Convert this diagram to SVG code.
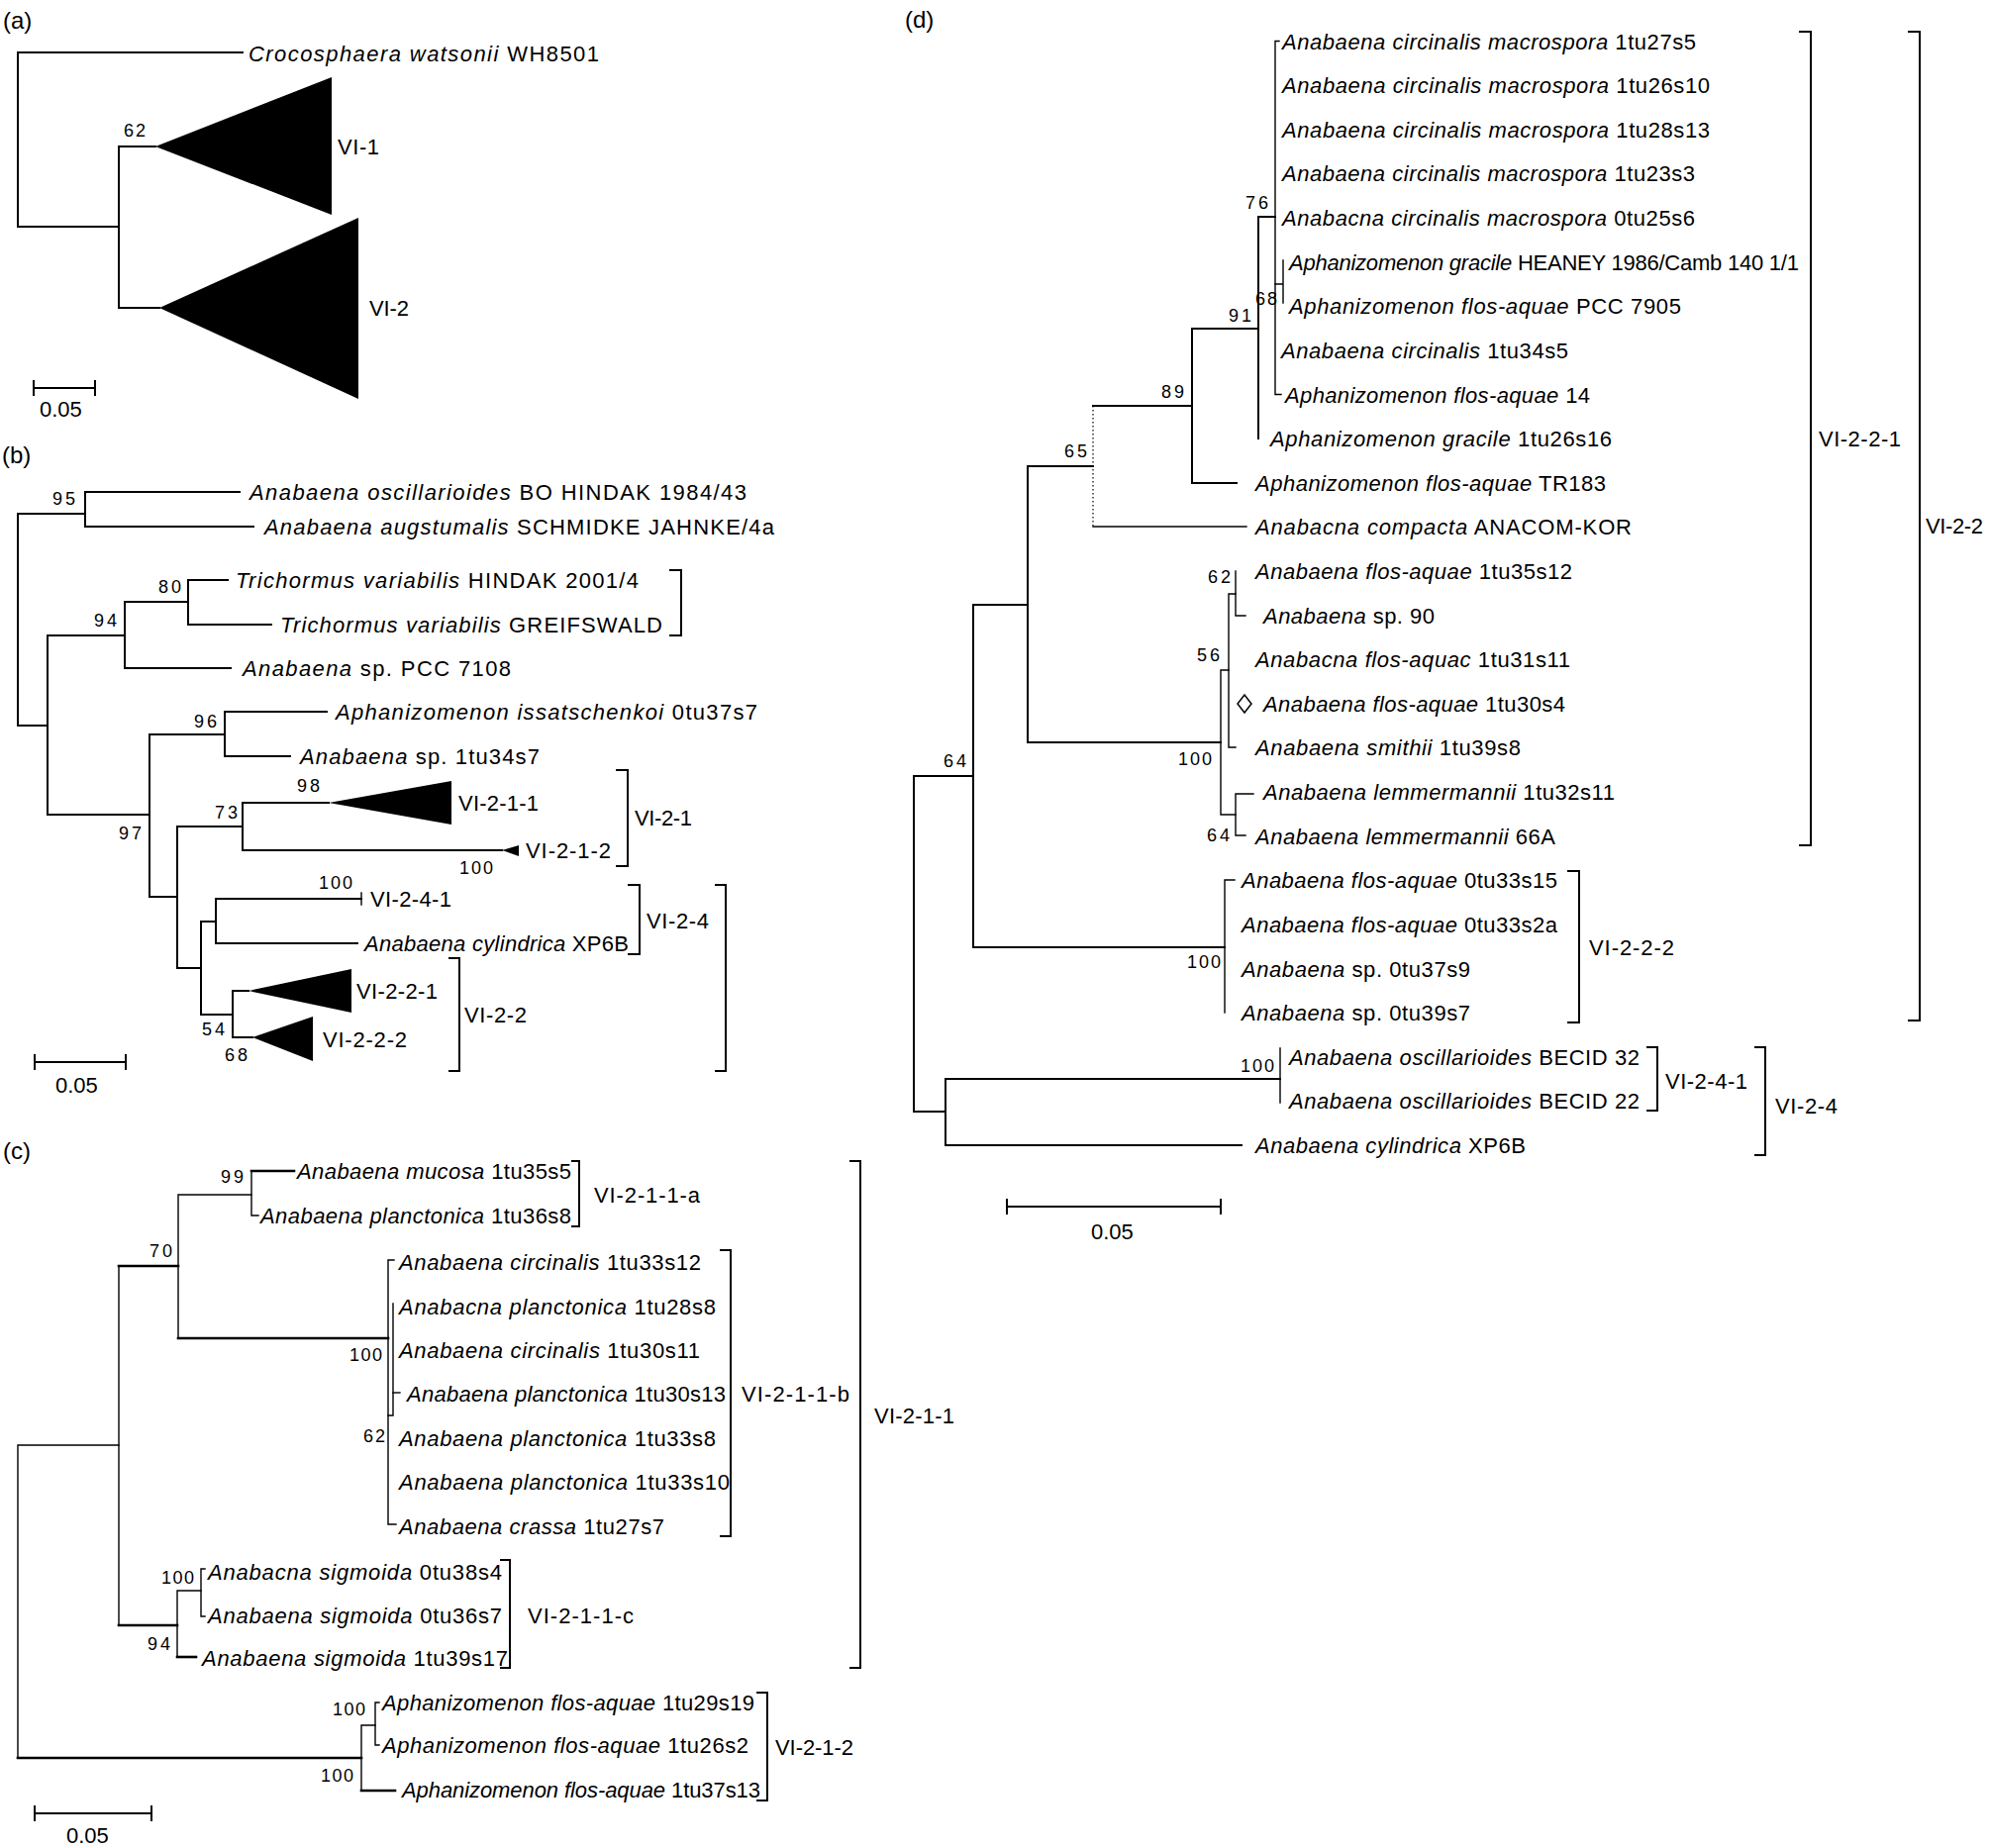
<svg xmlns="http://www.w3.org/2000/svg" width="2010" height="1867" viewBox="0 0 2010 1867">
<style>
  .e { fill: none; stroke: #000; stroke-width: 2; stroke-linecap: square; stroke-linejoin: miter; }
  .th { stroke-width: 1.4; }
  .hv { stroke-width: 2.6; }
  .dot { stroke-width: 1.2; stroke-dasharray: 1.5 2.5; stroke-linecap: butt; }
  .br { fill: none; stroke: #000; stroke-width: 2; stroke-linecap: butt; }
  .tri { fill: #000; stroke: none; }
  text { font-family: "Liberation Sans", Arial, Helvetica, sans-serif; font-size: 22px; fill: #000; }
  .i { font-style: italic; }
  .bs { font-size: 18px; }
  .pl { font-size: 24px; }
</style>
<rect width="2010" height="1867" fill="#fff"/>

<!-- ===================== (a) overview ===================== -->
<g id="panel-a">
  <text class="pl" x="3" y="29">(a)</text>
  <g id="a-connectors">
    <path class="e" d="M245,53 H18 V229 H120"/>
    <path class="e" d="M157,148 H120 V311 H161"/>
  </g>
  <g id="a-crocosphaera"><text x="251" y="62" textLength="354"><tspan class="i">Crocosphaera watsonii</tspan> WH8501</text></g>
  <g id="a-VI-1">
    <polygon class="tri" points="157,148 335,78 335,217"/>
    <text x="341" y="156" textLength="42">VI-1</text>
  </g>
  <g id="a-VI-2">
    <polygon class="tri" points="161,311 362,220 362,403"/>
    <text x="373" y="319" textLength="40">VI-2</text>
  </g>
  <text class="bs" x="125" y="138" textLength="22">62</text>
  <g id="a-scale">
    <path class="br" d="M34,392 H96 M34,384 V400 M96,384 V400"/>
    <text x="40" y="421">0.05</text>
  </g>
</g>

<!-- ===================== (b) VI-2 clades ===================== -->
<g id="panel-b">
  <text class="pl" x="2" y="468">(b)</text>
  <g id="b-connectors">
    <path class="e" d="M86,519 H18 V733 H48"/>
    <path class="e" d="M242,497 H86 V532 H256"/>
    <path class="e" d="M126,642 H48 V823 H151"/>
    <path class="e" d="M190,608 H126 V675 H233"/>
    <path class="e" d="M230,586 H190 V631 H274"/>
    <path class="e" d="M227,742 H151 V906 H179"/>
    <path class="e" d="M330,719 H227 V764 H293"/>
    <path class="e" d="M245,835 H179 V978 H203"/>
    <path class="e" d="M332,811 H245 V859 H507"/>
    <path class="e" d="M218,931 H203 V1025 H235"/>
    <path class="e" d="M365,908 H218 V953 H361"/>
    <path class="e th" d="M365,902 V914"/>
    <path class="e" d="M251,1001 H235 V1048 H255"/>
  </g>
  <g id="b-oscillarioides"><text x="252" y="505" textLength="502"><tspan class="i">Anabaena oscillarioides</tspan> BO HINDAK 1984/43</text></g>
  <g id="b-augstumalis"><text x="267" y="540" textLength="515"><tspan class="i">Anabaena augstumalis</tspan> SCHMIDKE JAHNKE/4a</text></g>
  <g id="b-trichormus-hindak"><text x="238" y="594" textLength="407"><tspan class="i">Trichormus variabilis</tspan> HINDAK 2001/4</text></g>
  <g id="b-trichormus-greifswald"><text x="283" y="639" textLength="386"><tspan class="i">Trichormus variabilis</tspan> GREIFSWALD</text></g>
  <g id="b-pcc7108"><text x="245" y="683" textLength="271"><tspan class="i">Anabaena</tspan> sp. PCC 7108</text></g>
  <g id="b-issatschenkoi"><text x="339" y="727" textLength="426"><tspan class="i">Aphanizomenon issatschenkoi</tspan> 0tu37s7</text></g>
  <g id="b-1tu34s7"><text x="303" y="772" textLength="242"><tspan class="i">Anabaena</tspan> sp. 1tu34s7</text></g>
  <g id="b-VI-2-1-1">
    <polygon class="tri" points="332,811 456,789 456,833"/>
    <text x="463" y="819" textLength="81">VI-2-1-1</text>
  </g>
  <g id="b-VI-2-1-2">
    <polygon class="tri" points="507,859 524,854 524,865"/>
    <text x="531" y="867" textLength="86">VI-2-1-2</text>
  </g>
  <g id="b-VI-2-4-1"><text x="374" y="916" textLength="82">VI-2-4-1</text></g>
  <g id="b-cylindrica"><text x="368" y="961" textLength="267"><tspan class="i">Anabaena cylindrica</tspan> XP6B</text></g>
  <g id="b-VI-2-2-1">
    <polygon class="tri" points="251,1001 355,979 355,1023"/>
    <text x="360" y="1009" textLength="82">VI-2-2-1</text>
  </g>
  <g id="b-VI-2-2-2">
    <polygon class="tri" points="255,1048 316,1027 316,1072"/>
    <text x="326" y="1058" textLength="85">VI-2-2-2</text>
  </g>
  <g id="b-brackets">
    <path class="br" d="M676,576 H688 V642 H676"/>
    <path class="br" d="M622,778 H634 V875 H622"/>
    <text x="641" y="834" textLength="58">VI-2-1</text>
    <path class="br" d="M634,894 H646 V964 H634"/>
    <text x="653" y="938" textLength="63">VI-2-4</text>
    <path class="br" d="M453,968 H464 V1082 H453"/>
    <text x="469" y="1033" textLength="63">VI-2-2</text>
    <path class="br" d="M722,894 H733 V1082 H722"/>
  </g>
  <g id="b-support">
    <text class="bs" x="53" y="510" textLength="23">95</text>
    <text class="bs" x="95" y="633" textLength="23">94</text>
    <text class="bs" x="160" y="599" textLength="23">80</text>
    <text class="bs" x="196" y="735" textLength="23">96</text>
    <text class="bs" x="120" y="848" textLength="23">97</text>
    <text class="bs" x="217" y="827" textLength="23">73</text>
    <text class="bs" x="300" y="800" textLength="23">98</text>
    <text class="bs" x="464" y="883" textLength="34">100</text>
    <text class="bs" x="322" y="898" textLength="34">100</text>
    <text class="bs" x="204" y="1046" textLength="23">54</text>
    <text class="bs" x="227" y="1072" textLength="23">68</text>
  </g>
  <g id="b-scale">
    <path class="br" d="M35,1073 H127 M35,1065 V1081 M127,1065 V1081"/>
    <text x="56" y="1104">0.05</text>
  </g>
</g>

<!-- ===================== (c) VI-2-1 ===================== -->
<g id="panel-c">
  <text class="pl" x="3" y="1171">(c)</text>
  <g id="c-connectors">
    <path class="e th" d="M120,1460 H18 V1776"/>
    <path class="e hv" d="M18,1776 H365"/>
    <path class="e th" d="M120,1279 V1642"/>
    <path class="e hv" d="M120,1279 H180"/>
    <path class="e hv" d="M120,1642 H179"/>
    <path class="e th" d="M254,1207 H180 V1352"/>
    <path class="e hv" d="M180,1352 H392"/>
    <path class="e th" d="M261,1228 H254 V1183"/>
    <path class="e hv" d="M254,1183 H297"/>
    <path class="e th" d="M398,1273 H392 V1540 H400"/>
    <path class="e th" d="M397,1317 V1430 H392"/>
    <path class="e th" d="M397,1407 H404"/>
    <path class="e th" d="M203,1607 H179 V1674"/>
    <path class="e hv" d="M179,1674 H198"/>
    <path class="e th" d="M207,1585 H203 V1633 H207"/>
    <path class="e th" d="M379,1743 H365 V1809"/>
    <path class="e hv" d="M365,1809 H399"/>
    <path class="e th" d="M383,1720 H379 V1763 H383"/>
  </g>
  <g id="c-mucosa"><text x="300" y="1191" textLength="277"><tspan class="i">Anabaena mucosa</tspan> 1tu35s5</text></g>
  <g id="c-1tu36s8"><text x="263" y="1236" textLength="314"><tspan class="i">Anabaena planctonica</tspan> 1tu36s8</text></g>
  <g id="c-1tu33s12"><text x="403" y="1283" textLength="305"><tspan class="i">Anabaena circinalis</tspan> 1tu33s12</text></g>
  <g id="c-1tu28s8"><text x="403" y="1328" textLength="320"><tspan class="i">Anabacna planctonica</tspan> 1tu28s8</text></g>
  <g id="c-1tu30s11"><text x="403" y="1372" textLength="304"><tspan class="i">Anabaena circinalis</tspan> 1tu30s11</text></g>
  <g id="c-1tu30s13"><text x="411" y="1416" textLength="322"><tspan class="i">Anabaena planctonica</tspan> 1tu30s13</text></g>
  <g id="c-1tu33s8"><text x="403" y="1461" textLength="320"><tspan class="i">Anabaena planctonica</tspan> 1tu33s8</text></g>
  <g id="c-1tu33s10"><text x="403" y="1505" textLength="334"><tspan class="i">Anabaena planctonica</tspan> 1tu33s10</text></g>
  <g id="c-crassa"><text x="403" y="1550" textLength="268"><tspan class="i">Anabaena crassa</tspan> 1tu27s7</text></g>
  <g id="c-0tu38s4"><text x="210" y="1596" textLength="297"><tspan class="i">Anabacna sigmoida</tspan> 0tu38s4</text></g>
  <g id="c-0tu36s7"><text x="210" y="1640" textLength="297"><tspan class="i">Anabaena sigmoida</tspan> 0tu36s7</text></g>
  <g id="c-1tu39s17"><text x="204" y="1683" textLength="309"><tspan class="i">Anabaena sigmoida</tspan> 1tu39s17</text></g>
  <g id="c-1tu29s19"><text x="386" y="1728" textLength="376"><tspan class="i">Aphanizomenon flos-aquae</tspan> 1tu29s19</text></g>
  <g id="c-1tu26s2"><text x="386" y="1771" textLength="370"><tspan class="i">Aphanizomenon flos-aquae</tspan> 1tu26s2</text></g>
  <g id="c-1tu37s13"><text x="406" y="1816" textLength="362"><tspan class="i">Aphanizomenon flos-aquae</tspan> 1tu37s13</text></g>
  <g id="c-brackets">
    <path class="br" d="M577,1173 H585 V1239 H577"/>
    <text x="600" y="1215" textLength="107">VI-2-1-1-a</text>
    <path class="br" d="M727,1263 H738 V1552 H727"/>
    <text x="749" y="1416" textLength="109">VI-2-1-1-b</text>
    <path class="br" d="M858,1173 H869 V1685 H858"/>
    <text x="883" y="1438" textLength="81">VI-2-1-1</text>
    <path class="br" d="M505,1576 H515 V1685 H505"/>
    <text x="533" y="1640" textLength="107">VI-2-1-1-c</text>
    <path class="br" d="M764,1710 H775 V1819 H764"/>
    <text x="783" y="1773" textLength="79">VI-2-1-2</text>
  </g>
  <g id="c-support">
    <text class="bs" x="223" y="1195" textLength="23">99</text>
    <text class="bs" x="151" y="1270" textLength="23">70</text>
    <text class="bs" x="353" y="1375" textLength="33">100</text>
    <text class="bs" x="367" y="1457" textLength="22">62</text>
    <text class="bs" x="163" y="1600" textLength="33">100</text>
    <text class="bs" x="149" y="1667" textLength="23">94</text>
    <text class="bs" x="336" y="1733" textLength="33">100</text>
    <text class="bs" x="324" y="1800" textLength="33">100</text>
  </g>
  <g id="c-scale">
    <path class="br" d="M35,1832 H153 M35,1824 V1840 M153,1824 V1840"/>
    <text x="67" y="1862">0.05</text>
  </g>
</g>

<!-- ===================== (d) VI-2-2 and VI-2-4 ===================== -->
<g id="panel-d">
  <text class="pl" x="914" y="28">(d)</text>
  <g id="d-connectors">
    <path class="e" d="M983,784 H923 V1123 H955"/>
    <path class="e" d="M1038,611 H983 V957 H1237"/>
    <path class="e" d="M1104,471 H1038 V750 H1233"/>
    <path class="e dot" d="M1104,410 V532"/>
    <path class="e th" d="M1104,532 H1259"/>
    <path class="e" d="M1104,410 H1204"/>
    <path class="e" d="M1271,332 H1204 V488 H1249"/>
    <path class="e" d="M1288,219 H1271 V443"/>
    <path class="e th" d="M1292,41.5 H1288 V398.5 H1294"/>
    <path class="e th" d="M1288,287 H1296 M1296,263 V306"/>
    <path class="e th" d="M1241,677 H1233 V823 H1248"/>
    <path class="e th" d="M1248,600 H1241 V755 H1248"/>
    <path class="e th" d="M1248,577 V622 H1258"/>
    <path class="e th" d="M1266,802 H1248 V844 H1258"/>
    <path class="e th" d="M1247,889 H1237 V1023"/>
    <path class="e" d="M1293,1090 H955 V1157 H1254"/>
    <path class="e th" d="M1293,1059 V1114"/>
  </g>
  <g id="d-1tu27s5"><text x="1295" y="49.5" textLength="418"><tspan class="i">Anabaena circinalis macrospora</tspan> 1tu27s5</text></g>
  <g id="d-1tu26s10"><text x="1295" y="94.1" textLength="432"><tspan class="i">Anabaena circinalis macrospora</tspan> 1tu26s10</text></g>
  <g id="d-1tu28s13"><text x="1295" y="138.7" textLength="432"><tspan class="i">Anabaena circinalis macrospora</tspan> 1tu28s13</text></g>
  <g id="d-1tu23s3"><text x="1295" y="183.4" textLength="417"><tspan class="i">Anabaena circinalis macrospora</tspan> 1tu23s3</text></g>
  <g id="d-0tu25s6"><text x="1295" y="228" textLength="417"><tspan class="i">Anabacna circinalis macrospora</tspan> 0tu25s6</text></g>
  <g id="d-heaney"><text x="1302" y="272.6" textLength="515"><tspan class="i">Aphanizomenon gracile</tspan> HEANEY 1986/Camb 140 1/1</text></g>
  <g id="d-pcc7905"><text x="1302" y="317.2" textLength="396"><tspan class="i">Aphanizomenon flos-aquae</tspan> PCC 7905</text></g>
  <g id="d-1tu34s5"><text x="1294" y="361.8" textLength="290"><tspan class="i">Anabaena circinalis</tspan> 1tu34s5</text></g>
  <g id="d-afa14"><text x="1298" y="406.5" textLength="308"><tspan class="i">Aphanizomenon flos-aquae</tspan> 14</text></g>
  <g id="d-1tu26s16"><text x="1283" y="451.1" textLength="345"><tspan class="i">Aphanizomenon gracile</tspan> 1tu26s16</text></g>
  <g id="d-tr183"><text x="1268" y="495.7" textLength="354"><tspan class="i">Aphanizomenon flos-aquae</tspan> TR183</text></g>
  <g id="d-compacta"><text x="1268" y="540.3" textLength="380"><tspan class="i">Anabacna compacta</tspan> ANACOM-KOR</text></g>
  <g id="d-1tu35s12"><text x="1268" y="584.9" textLength="320"><tspan class="i">Anabaena flos-aquae</tspan> 1tu35s12</text></g>
  <g id="d-sp90"><text x="1276" y="629.6" textLength="173"><tspan class="i">Anabaena</tspan> sp. 90</text></g>
  <g id="d-1tu31s11"><text x="1268" y="674.2" textLength="318"><tspan class="i">Anabacna flos-aquac</tspan> 1tu31s11</text></g>
  <g id="d-1tu30s4">
    <path class="br" style="stroke-width:1.5" d="M1257,702 L1264,711 L1257,720 L1250,711 Z"/>
    <text x="1276" y="718.8" textLength="305"><tspan class="i">Anabaena flos-aquae</tspan> 1tu30s4</text>
  </g>
  <g id="d-smithii"><text x="1268" y="763.4" textLength="268"><tspan class="i">Anabaena smithii</tspan> 1tu39s8</text></g>
  <g id="d-1tu32s11"><text x="1276" y="808" textLength="355"><tspan class="i">Anabaena lemmermannii</tspan> 1tu32s11</text></g>
  <g id="d-66a"><text x="1268" y="852.7" textLength="303"><tspan class="i">Anabaena lemmermannii</tspan> 66A</text></g>
  <g id="d-0tu33s15"><text x="1254" y="897.3" textLength="319"><tspan class="i">Anabaena flos-aquae</tspan> 0tu33s15</text></g>
  <g id="d-0tu33s2a"><text x="1254" y="941.9" textLength="319"><tspan class="i">Anabaena flos-aquae</tspan> 0tu33s2a</text></g>
  <g id="d-0tu37s9"><text x="1254" y="986.5" textLength="231"><tspan class="i">Anabaena</tspan> sp. 0tu37s9</text></g>
  <g id="d-0tu39s7"><text x="1254" y="1031.1" textLength="231"><tspan class="i">Anabaena</tspan> sp. 0tu39s7</text></g>
  <g id="d-becid32"><text x="1302" y="1075.8" textLength="354"><tspan class="i">Anabaena oscillarioides</tspan> BECID 32</text></g>
  <g id="d-becid22"><text x="1302" y="1120.4" textLength="354"><tspan class="i">Anabaena oscillarioides</tspan> BECID 22</text></g>
  <g id="d-cylindrica"><text x="1268" y="1165" textLength="273"><tspan class="i">Anabaena cylindrica</tspan> XP6B</text></g>
  <g id="d-brackets">
    <path class="br" d="M1817,32 H1829 V854 H1817"/>
    <text x="1837" y="451" textLength="83">VI-2-2-1</text>
    <path class="br" d="M1927,32 H1939 V1031 H1927"/>
    <text x="1945" y="539" textLength="58">VI-2-2</text>
    <path class="br" d="M1583,880 H1595 V1033 H1583"/>
    <text x="1605" y="965" textLength="86">VI-2-2-2</text>
    <path class="br" d="M1663,1058 H1674 V1122 H1663"/>
    <text x="1682" y="1100" textLength="83">VI-2-4-1</text>
    <path class="br" d="M1772,1058 H1783 V1167 H1772"/>
    <text x="1793" y="1125" textLength="63">VI-2-4</text>
  </g>
  <g id="d-support">
    <text class="bs" x="1258" y="211" textLength="23">76</text>
    <text class="bs" x="1268" y="308" textLength="22">68</text>
    <text class="bs" x="1241" y="325" textLength="23">91</text>
    <text class="bs" x="1173" y="402" textLength="23">89</text>
    <text class="bs" x="1075" y="462" textLength="23">65</text>
    <text class="bs" x="1220" y="589" textLength="23">62</text>
    <text class="bs" x="1209" y="668" textLength="23">56</text>
    <text class="bs" x="1190" y="773" textLength="34">100</text>
    <text class="bs" x="1219" y="850" textLength="23">64</text>
    <text class="bs" x="953" y="775" textLength="23">64</text>
    <text class="bs" x="1199" y="978" textLength="34">100</text>
    <text class="bs" x="1253" y="1083" textLength="34">100</text>
  </g>
  <g id="d-scale">
    <path class="br" d="M1017,1219 H1233 M1017,1211 V1227 M1233,1211 V1227"/>
    <text x="1102" y="1252">0.05</text>
  </g>
</g>
</svg>
